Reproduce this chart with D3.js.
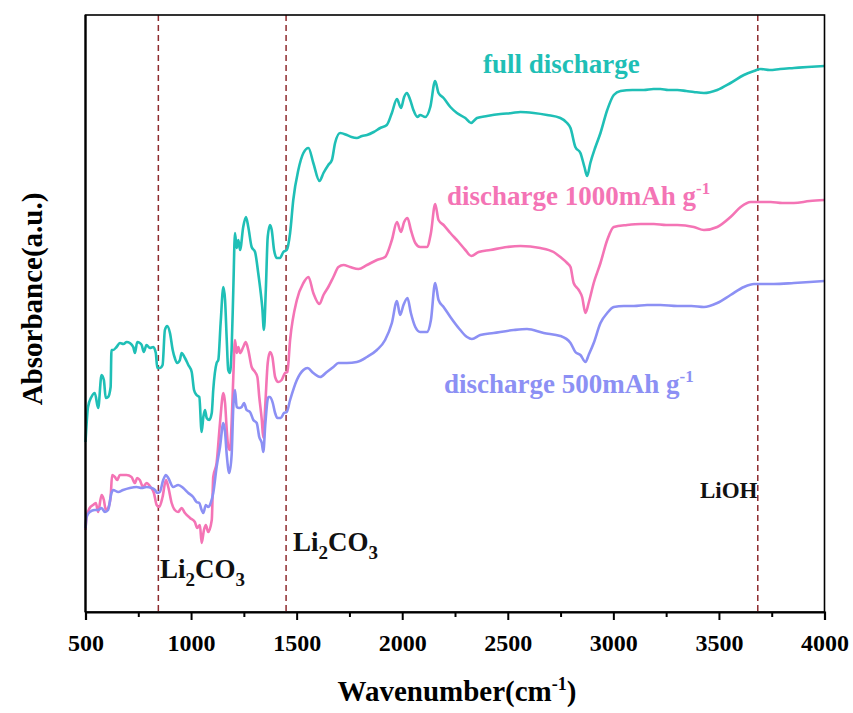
<!DOCTYPE html>
<html>
<head>
<meta charset="utf-8">
<script src="https://cdn.jsdelivr.net/npm/d3@7"></script>
<style>
  body { margin: 0; background: #fff; }
  text { font-family: "Liberation Serif", "Times New Roman", serif; font-weight: bold; }
</style>
</head>
<body>
<svg id="chart" width="853" height="713"></svg>
<script>
// FTIR spectra (absorbance, arbitrary units, stacked) vs. wavenumber in cm^-1
const majorTicks = [500, 1000, 1500, 2000, 2500, 3000, 3500, 4000];
const minorTicks = [750, 1250, 1750, 2250, 2750, 3250, 3750];
const markerLines = [845, 1450, 3684];

const fullDischarge = [
  [500,1.70],[512,2.05],[528,2.15],[544,2.19],[560,2.04],[576,2.37],[587,2.32],[596,2.14],[607,2.15],[619,2.25],
  [623,2.62],[631,2.62],[647,2.65],[663,2.69],[680,2.68],[695,2.70],[710,2.69],[726,2.65],[734,2.59],[745,2.70],
  [757,2.69],[766,2.67],[776,2.60],[789,2.67],[805,2.64],[821,2.65],[833,2.59],[840,2.44],[852,2.44],[865,2.47],
  [876,2.82],[887,2.86],[900,2.79],[913,2.62],[923,2.54],[934,2.49],[947,2.52],[955,2.59],[971,2.54],[987,2.47],
  [1003,2.40],[1014,2.22],[1026,2.17],[1039,2.15],[1050,1.80],[1058,1.95],[1066,2.02],[1074,1.94],[1086,1.92],[1098,1.99],
  [1105,2.22],[1121,2.49],[1129,2.52],[1140,2.89],[1153,3.25],[1161,3.12],[1169,2.72],[1176,2.42],[1184,2.39],[1192,2.62],
  [1200,3.22],[1208,3.79],[1216,3.64],[1224,3.72],[1232,3.62],[1247,3.85],[1260,3.95],[1271,3.85],[1287,3.65],[1303,3.60],
  [1318,3.39],[1330,3.19],[1337,3.05],[1345,2.82],[1354,3.22],[1363,3.75],[1374,3.87],[1382,3.82],[1393,3.62],[1406,3.54],
  [1421,3.54],[1437,3.60],[1453,3.62],[1469,3.79],[1484,4.12],[1508,4.42],[1532,4.59],[1556,4.64],[1579,4.49],[1608,4.31],
  [1627,4.39],[1650,4.47],[1667,4.52],[1682,4.69],[1706,4.79],[1738,4.77],[1760,4.75],[1785,4.74],[1810,4.76],[1833,4.77],
  [1865,4.80],[1896,4.84],[1927,4.87],[1951,4.99],[1975,5.13],[1994,5.04],[2009,5.15],[2022,5.19],[2038,5.12],[2053,5.02],
  [2072,4.95],[2085,4.97],[2109,4.95],[2133,5.05],[2156,5.31],[2172,5.19],[2196,5.14],[2228,5.05],[2259,4.99],[2299,4.94],
  [2326,4.89],[2354,4.94],[2402,4.96],[2465,4.98],[2520,4.99],[2560,5.00],[2623,4.99],[2686,4.97],[2749,4.94],[2781,4.89],
  [2797,4.84],[2820,4.65],[2844,4.59],[2863,4.45],[2876,4.36],[2891,4.49],[2915,4.65],[2939,4.79],[2971,5.02],[3002,5.17],
  [3034,5.21],[3090,5.22],[3144,5.22],[3190,5.23],[3223,5.23],[3260,5.22],[3303,5.22],[3345,5.21],[3381,5.20],[3429,5.19],
  [3492,5.22],[3555,5.29],[3618,5.37],[3666,5.41],[3698,5.43],[3740,5.42],[3790,5.43],[3855,5.44],[3920,5.45],[4000,5.46]
];

const discharge1000 = [
  [500,0.82],[505,0.95],[520,1.04],[536,1.07],[549,1.09],[560,1.00],[576,1.17],[587,1.12],[596,1.02],[607,1.04],
  [619,1.15],[626,1.37],[639,1.35],[650,1.32],[663,1.37],[694,1.37],[718,1.35],[734,1.29],[745,1.34],[757,1.32],
  [773,1.25],[789,1.29],[808,1.25],[824,1.19],[837,1.07],[849,1.05],[865,1.15],[881,1.32],[892,1.25],[908,1.09],
  [923,1.02],[939,1.00],[955,1.04],[971,0.99],[995,0.94],[1018,0.90],[1029,0.84],[1042,0.87],[1050,0.69],[1061,0.82],
  [1070,0.87],[1081,0.80],[1098,0.92],[1105,1.35],[1121,1.49],[1137,1.89],[1153,2.19],[1161,2.09],[1169,1.82],[1176,1.65],
  [1184,1.62],[1192,1.89],[1200,2.35],[1208,2.72],[1216,2.59],[1224,2.65],[1232,2.59],[1247,2.65],[1259,2.70],[1271,2.62],
  [1287,2.45],[1303,2.40],[1314,2.35],[1323,2.15],[1335,1.92],[1342,1.74],[1352,2.09],[1363,2.49],[1374,2.60],[1385,2.55],
  [1398,2.35],[1413,2.30],[1429,2.32],[1445,2.39],[1456,2.40],[1469,2.72],[1501,3.12],[1532,3.29],[1556,3.35],[1579,3.19],
  [1608,3.08],[1627,3.17],[1650,3.25],[1674,3.35],[1698,3.45],[1722,3.47],[1753,3.45],[1793,3.43],[1833,3.47],[1880,3.52],
  [1919,3.55],[1951,3.72],[1975,3.90],[1994,3.80],[2009,3.90],[2025,3.94],[2041,3.82],[2062,3.69],[2085,3.65],[2117,3.65],
  [2136,3.79],[2156,4.08],[2172,3.92],[2196,3.87],[2228,3.79],[2267,3.70],[2299,3.62],[2327,3.56],[2362,3.60],[2417,3.62],
  [2496,3.65],[2560,3.66],[2654,3.64],[2717,3.60],[2749,3.55],[2781,3.49],[2797,3.45],[2812,3.29],[2836,3.22],[2852,3.15],
  [2868,2.99],[2883,3.09],[2907,3.29],[2939,3.49],[2971,3.72],[3002,3.85],[3065,3.87],[3130,3.88],[3192,3.88],[3250,3.87],
  [3303,3.87],[3381,3.85],[3429,3.82],[3492,3.85],[3555,3.95],[3603,4.05],[3650,4.10],[3698,4.10],[3745,4.10],[3800,4.09],
  [3855,4.09],[3930,4.11],[4000,4.12]
];

const discharge500 = [
  [500,0.84],[505,0.95],[520,1.00],[544,1.02],[560,1.02],[576,1.04],[592,1.00],[607,1.02],[623,1.19],[631,1.22],
  [655,1.20],[678,1.22],[710,1.24],[742,1.25],[766,1.24],[789,1.25],[813,1.24],[829,1.22],[840,1.19],[852,1.20],
  [868,1.32],[881,1.37],[892,1.34],[915,1.25],[939,1.27],[963,1.24],[987,1.19],[1010,1.15],[1026,1.10],[1039,1.09],
  [1050,1.02],[1058,0.99],[1070,1.07],[1081,1.05],[1093,1.09],[1105,1.19],[1121,1.45],[1137,1.65],[1153,1.89],[1161,1.80],
  [1169,1.57],[1181,1.39],[1192,1.57],[1200,2.05],[1208,2.22],[1216,2.05],[1228,2.04],[1240,2.05],[1251,2.09],[1263,2.02],
  [1279,2.00],[1295,1.92],[1311,1.89],[1323,1.75],[1335,1.69],[1342,1.60],[1352,1.89],[1366,2.15],[1374,2.15],[1387,2.09],
  [1398,1.99],[1409,1.94],[1425,1.94],[1440,1.99],[1453,2.00],[1469,2.12],[1501,2.32],[1532,2.42],[1551,2.44],[1579,2.39],
  [1611,2.35],[1643,2.40],[1674,2.45],[1698,2.49],[1738,2.49],[1785,2.50],[1833,2.55],[1880,2.62],[1919,2.72],[1951,2.89],
  [1975,3.11],[1990,2.97],[2006,3.07],[2025,3.14],[2041,2.99],[2062,2.85],[2085,2.80],[2117,2.80],[2136,2.92],[2156,3.29],
  [2172,3.12],[2196,3.05],[2228,2.95],[2275,2.82],[2307,2.75],[2330,2.73],[2370,2.77],[2433,2.79],[2528,2.82],[2591,2.83],
  [2670,2.79],[2749,2.76],[2797,2.69],[2820,2.60],[2844,2.57],[2868,2.50],[2883,2.57],[2907,2.69],[2939,2.89],[2971,2.99],
  [3002,3.05],[3050,3.06],[3097,3.06],[3160,3.07],[3223,3.07],[3303,3.06],[3370,3.06],[3429,3.05],[3492,3.09],[3555,3.17],
  [3618,3.25],[3666,3.28],[3698,3.28],[3760,3.28],[3855,3.29],[3930,3.30],[4000,3.31]
];

const seriesList = [
  { name: "full discharge", color: "#1fbfb6", data: fullDischarge },
  { name: "discharge 1000mAh g-1", color: "#f474b5", data: discharge1000 },
  { name: "discharge 500mAh g-1", color: "#8c90f4", data: discharge500 }
];

const svg = d3.select("#chart");
const plot = { left: 85.5, right: 824.5, top: 15, bottom: 612 };

const x = d3.scaleLinear().domain([500, 4000]).range([plot.left, plot.right]);
const y = d3.scaleLinear().domain([0, 5.97]).range([plot.bottom, plot.top]);

// Marker lines for Li2CO3 and LiOH bands
svg.append("g").selectAll("line").data(markerLines).join("line")
  .attr("x1", d => x(d)).attr("x2", d => x(d))
  .attr("y1", plot.top).attr("y2", plot.bottom)
  .attr("stroke", "#8e2a2e").attr("stroke-width", 1.5)
  .attr("stroke-dasharray", "6,4");

// Spectra
const line = d3.line().x(d => x(d[0])).y(d => y(d[1])).curve(d3.curveMonotoneX);
svg.append("g").selectAll("path").data(seriesList).join("path")
  .attr("d", d => line(d.data))
  .attr("fill", "none")
  .attr("stroke", d => d.color)
  .attr("stroke-width", 2.6)
  .attr("stroke-linejoin", "round");

// Frame
svg.append("rect")
  .attr("x", plot.left).attr("y", plot.top)
  .attr("width", plot.right - plot.left).attr("height", plot.bottom - plot.top)
  .attr("fill", "none").attr("stroke", "#000").attr("stroke-width", 1.6);

// Bottom axis: major ticks with labels, minor ticks without
const axisMajor = d3.axisBottom(x).tickValues(majorTicks).tickSize(8).tickPadding(14)
  .tickFormat(d3.format("d"));
const gx = svg.append("g").attr("transform", `translate(0,${plot.bottom})`).call(axisMajor);
gx.select(".domain").attr("stroke-width", 2.2);
gx.selectAll(".tick line").attr("stroke-width", 2);
gx.selectAll(".tick text")
  .attr("font-family", "Liberation Serif, serif")
  .attr("font-weight", "bold").attr("font-size", 24).attr("fill", "#000");

const axisMinor = d3.axisBottom(x).tickValues(minorTicks).tickSize(5).tickFormat("");
const gm = svg.append("g").attr("transform", `translate(0,${plot.bottom})`).call(axisMinor);
gm.select(".domain").remove();
gm.selectAll(".tick line").attr("stroke-width", 2);

// Left axis line
svg.append("line")
  .attr("x1", plot.left).attr("x2", plot.left)
  .attr("y1", plot.top).attr("y2", plot.bottom)
  .attr("stroke", "#000").attr("stroke-width", 2.2);

// Axis titles
const xTitle = svg.append("text")
  .attr("x", (plot.left + plot.right) / 2 + 2).attr("y", 701)
  .attr("text-anchor", "middle").attr("font-size", 29).attr("fill", "#000");
xTitle.append("tspan").text("Wavenumber(cm");
xTitle.append("tspan").attr("dy", -11).attr("font-size", 18).text("-1");
xTitle.append("tspan").attr("dy", 11).text(")");

svg.append("text")
  .attr("transform", "translate(42,299) rotate(-90)")
  .attr("text-anchor", "middle").attr("font-size", 29).attr("fill", "#000")
  .text("Absorbance(a.u.)");

// Series labels
function unitLabel(sel, main, color) {
  sel.attr("fill", color).attr("font-size", 27);
  sel.append("tspan").text(main);
  sel.append("tspan").attr("dy", -11).attr("font-size", 17).text("-1");
}
svg.append("text").attr("x", 483).attr("y", 73)
  .attr("fill", seriesList[0].color).attr("font-size", 27).text("full discharge");
unitLabel(svg.append("text").attr("x", 447).attr("y", 205), "discharge 1000mAh g", seriesList[1].color);
unitLabel(svg.append("text").attr("x", 444).attr("y", 393), "discharge 500mAh g", seriesList[2].color);

// Band labels
function formulaLabel(xPos, yPos) {
  const t = svg.append("text").attr("x", xPos).attr("y", yPos)
    .attr("font-size", 27).attr("fill", "#111");
  t.append("tspan").text("Li");
  t.append("tspan").attr("dy", 8).attr("font-size", 19).text("2");
  t.append("tspan").attr("dy", -8).text("CO");
  t.append("tspan").attr("dy", 8).attr("font-size", 19).text("3");
}
formulaLabel(160, 578);
formulaLabel(293, 551);
svg.append("text").attr("x", 700).attr("y", 498)
  .attr("font-size", 23).attr("fill", "#111").text("LiOH");
</script>
</body>
</html>
